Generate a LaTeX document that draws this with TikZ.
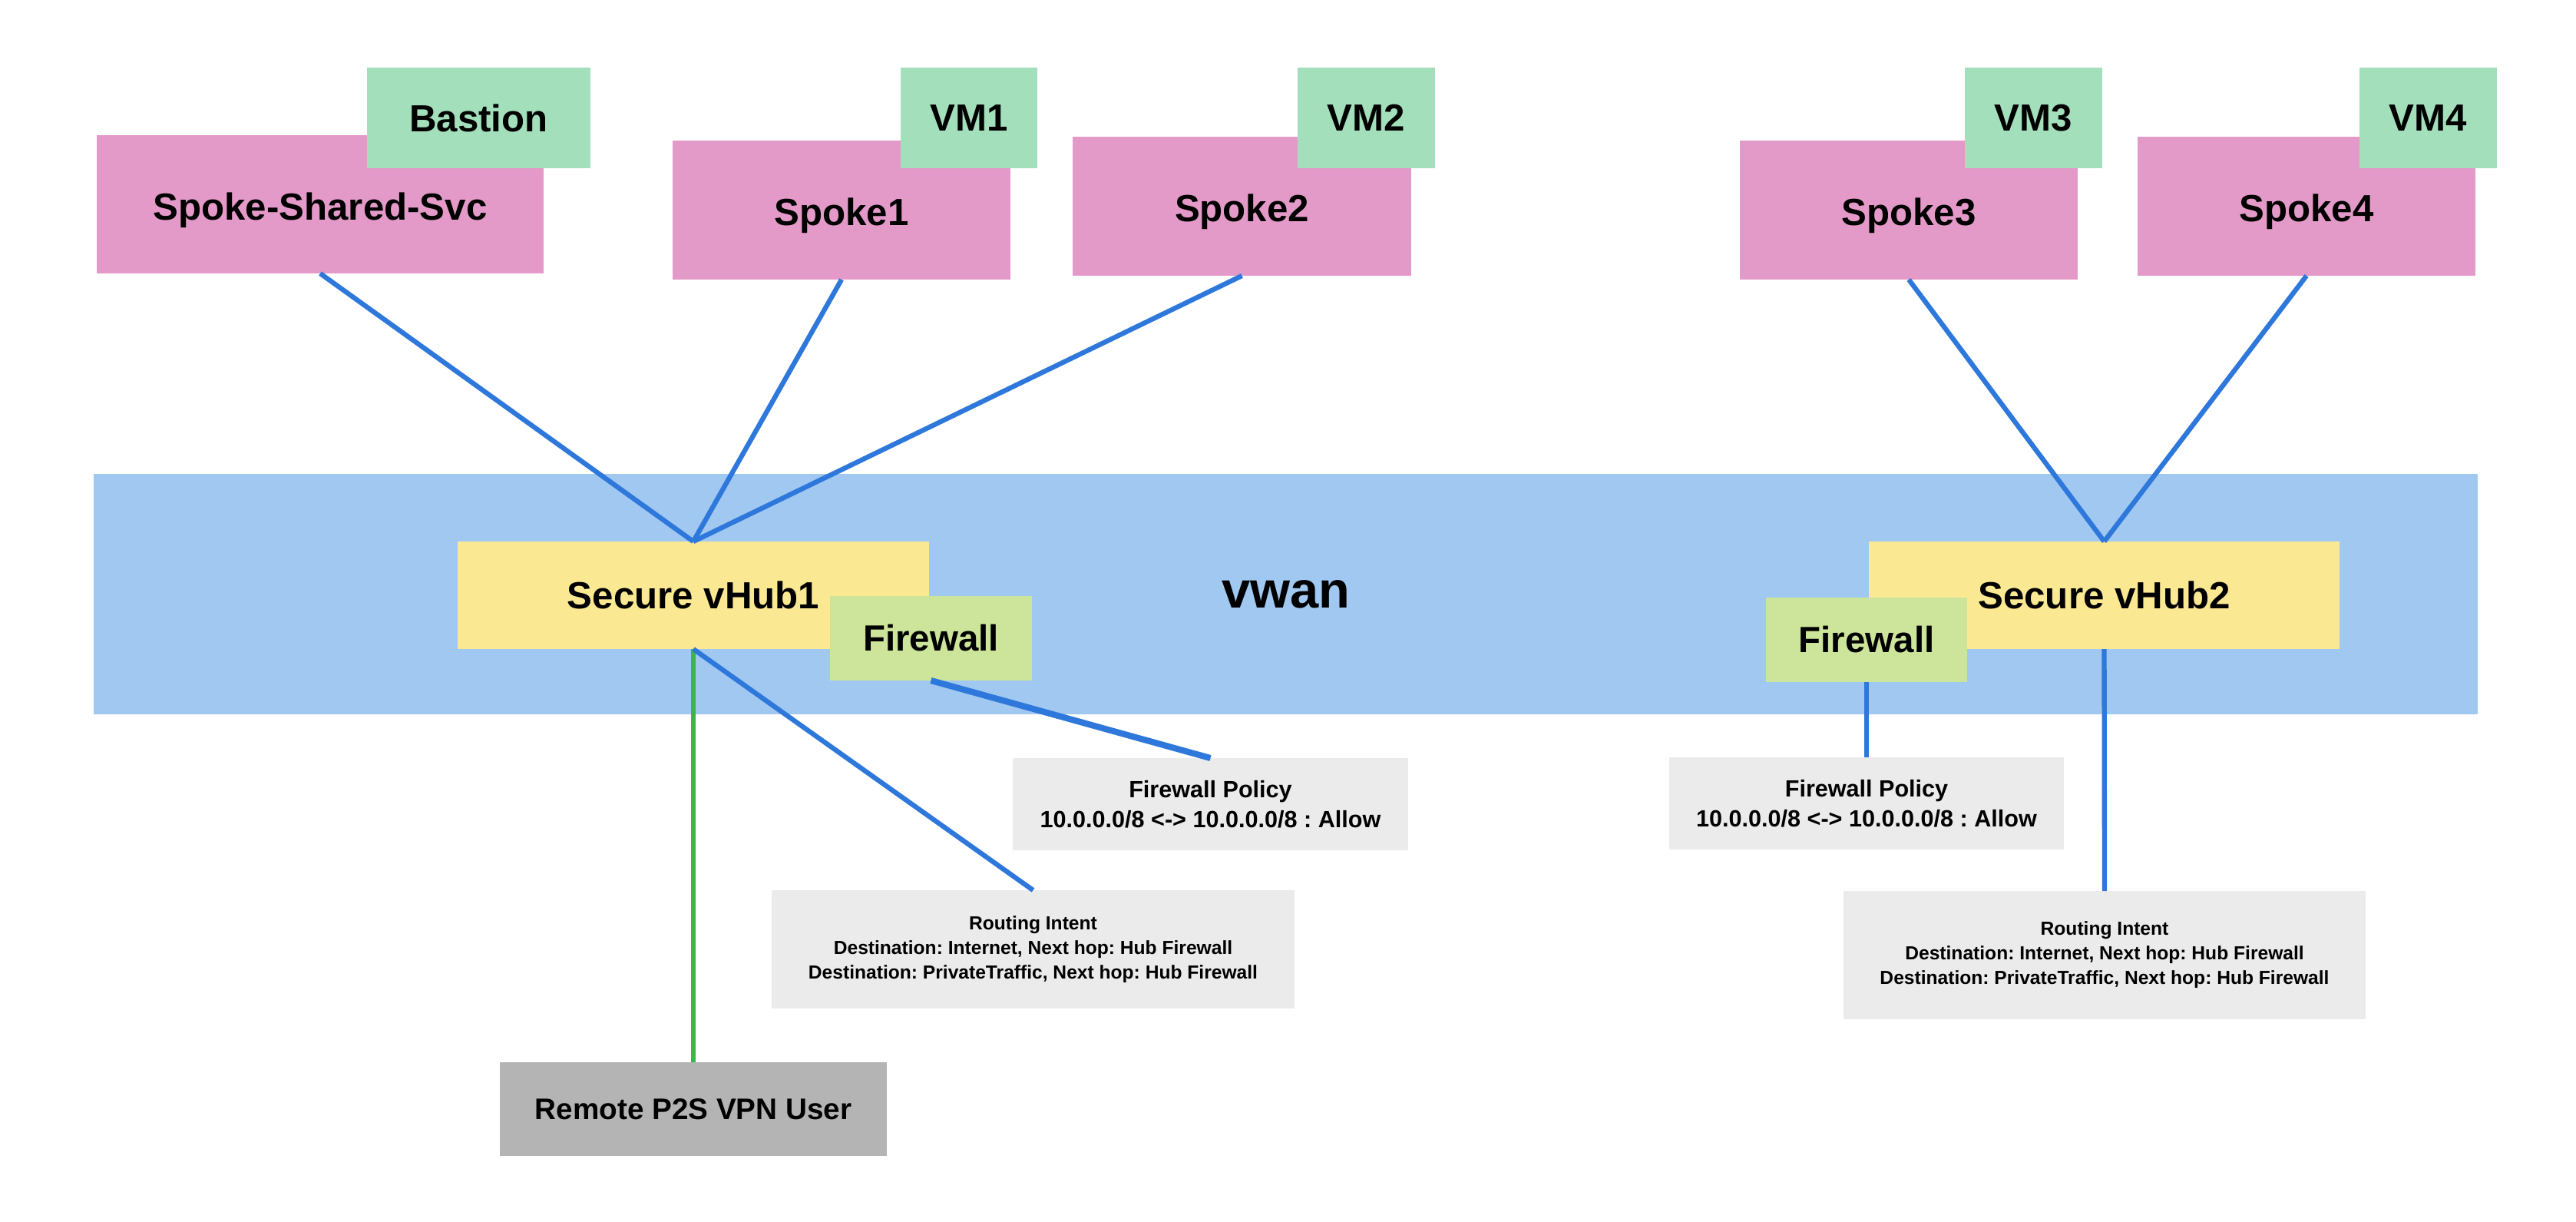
\documentclass[tikz,border=0pt]{standalone}
\usepackage{fontspec}
\setmainfont{Liberation Sans}
\frenchspacing
\definecolor{spokepink}{HTML}{E49AC8}
\definecolor{vmgreen}{HTML}{A3DFBB}
\definecolor{wanblue}{HTML}{A0C8F0}
\definecolor{hubyellow}{HTML}{FBE893}
\definecolor{fwgreen}{HTML}{CDE59A}
\definecolor{notegray}{HTML}{EBEBEB}
\definecolor{usergray}{HTML}{B4B4B4}
\definecolor{linkblue}{HTML}{2E78DB}
\definecolor{linkgreen}{HTML}{3DB54A}
\begin{document}
\begin{tikzpicture}[
  every node/.style={inner sep=0pt, outer sep=0pt, text=black},
  spoke/.style={fill=spokepink, minimum width=4.40cm, minimum height=1.81cm, text height=0.50cm, text depth=0.10cm, font=\bfseries\fontsize{14}{17}\selectfont},
  vm/.style={fill=vmgreen, minimum width=1.79cm, minimum height=1.31cm, font=\bfseries\fontsize{14}{17}\selectfont},
  hub/.style={fill=hubyellow, minimum width=6.14cm, minimum height=1.40cm, font=\bfseries\fontsize{14}{17}\selectfont},
  fw/.style={fill=fwgreen, minimum width=2.63cm, minimum height=1.10cm, font=\bfseries\fontsize{13.5}{16}\selectfont},
  policy/.style={fill=notegray, minimum width=5.15cm, minimum height=1.20cm, align=center, font=\bfseries\fontsize{8.7}{11.1}\selectfont},
  intent/.style={fill=notegray, minimum width=6.81cm, minimum height=1.54cm, align=center, font=\bfseries\fontsize{7}{9.1}\selectfont},
  link/.style={draw=linkblue, line width=1.8pt}
]

\useasboundingbox [fill=white] (0,0) rectangle (33.55,-15.90);

\node [fill=wanblue, minimum width=31.05cm, minimum height=3.13cm, font=\bfseries\fontsize{19}{23}\selectfont] (vwan) at (16.745,-7.735) {vwan};

\node [spoke, minimum width=5.82cm, minimum height=1.80cm] (shared) at (4.17,-2.66) {Spoke-Shared-Svc};
\node [vm, minimum width=2.91cm] (bastion) at (6.235,-1.535) {Bastion};
\node [spoke] (spoke1) at (10.96,-2.735) {Spoke1};
\node [vm, minimum width=1.78cm] (vm1) at (12.62,-1.535) {VM1};
\node [spoke, minimum width=4.41cm] (spoke2) at (16.175,-2.685) {Spoke2};
\node [vm] (vm2) at (17.795,-1.535) {VM2};
\node [spoke] (spoke3) at (24.86,-2.735) {Spoke3};
\node [vm] (vm3) at (26.485,-1.535) {VM3};
\node [spoke] (spoke4) at (30.04,-2.685) {Spoke4};
\node [vm] (vm4) at (31.625,-1.535) {VM4};

\node [hub] (hub1) at (9.03,-7.75) {Secure vHub1};
\node [fw] (fw1) at (12.125,-8.31) {Firewall};
\node [hub, minimum width=6.13cm] (hub2) at (27.405,-7.75) {Secure vHub2};
\node [fw, minimum width=2.62cm] (fw2) at (24.31,-8.33) {Firewall};

\node [policy] (policy1) at (15.765,-10.47) {Firewall Policy\\10.0.0.0/8 <-> 10.0.0.0/8 : Allow};
\node [intent] (intent1) at (13.455,-12.36) {Routing Intent\\Destination: Internet, Next hop: Hub Firewall\\Destination: PrivateTraffic, Next hop: Hub Firewall};
\node [fill=usergray, minimum width=5.04cm, minimum height=1.22cm, font=\bfseries\fontsize{11}{13}\selectfont] (user) at (9.03,-14.44) {Remote P2S VPN User};
\node [policy, minimum width=5.14cm] (policy2) at (24.31,-10.46) {Firewall Policy\\10.0.0.0/8 <-> 10.0.0.0/8 : Allow};
\node [intent, minimum width=6.80cm, minimum height=1.67cm] (intent2) at (27.41,-12.435) {Routing Intent\\Destination: Internet, Next hop: Hub Firewall\\Destination: PrivateTraffic, Next hop: Hub Firewall};

\draw [link] (shared.south) -- (hub1.north);
\draw [link] (spoke1.south) -- (hub1.north);
\draw [link] (spoke2.south) -- (hub1.north);
\draw [link] (spoke3.south) -- (hub2.north);
\draw [link] (spoke4.south) -- (hub2.north);

\draw [draw=linkgreen, line width=1.5pt] (hub1.south) -- (user.north);
\draw [link] (hub1.south) -- (intent1.north);
\draw [link, line width=2.3pt] (fw1.south) -- (policy1.north);
\draw [link] (fw2.south) -- (policy2.north);
\draw [link] (hub2.south) -- (intent2.north);

\end{tikzpicture}
\end{document}
